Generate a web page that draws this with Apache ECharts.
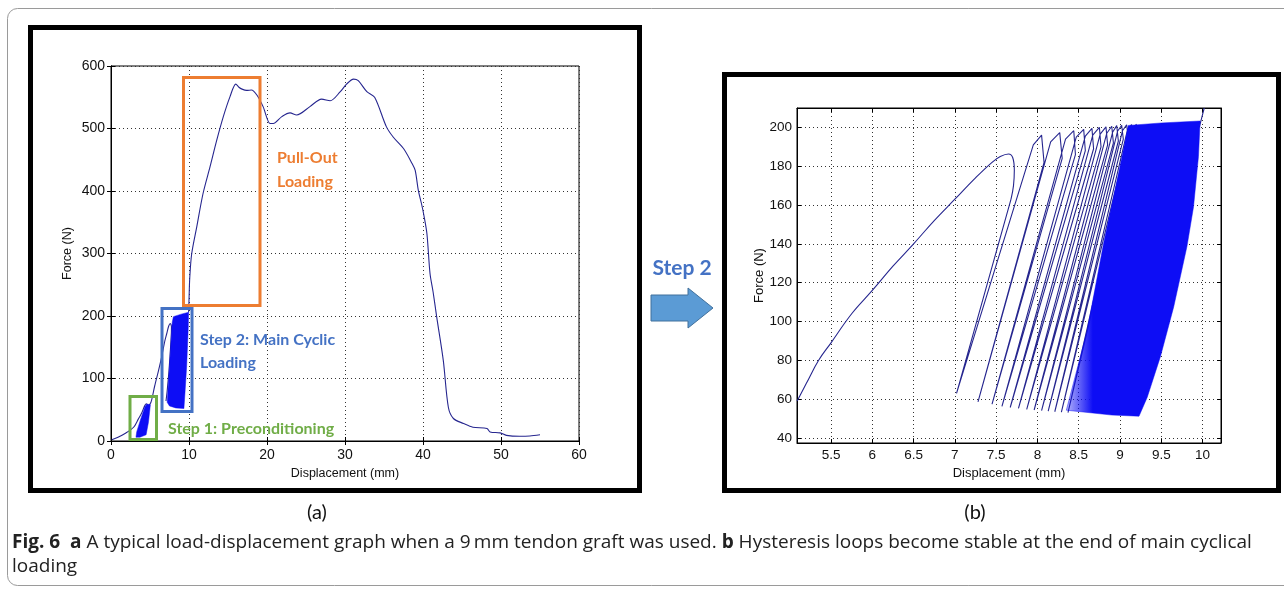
<!DOCTYPE html>
<html>
<head>
<meta charset="utf-8">
<script src="https://cdn.jsdelivr.net/npm/echarts@6/dist/echarts.min.js"></script>
<style>
  html, body { margin: 0; padding: 0; background: #fff; }
  #chart { width: 1284px; height: 590px; }
</style>
</head>
<body>
<div id="chart"></div>
<script>
// (a) full test: ramp up through preconditioning, then pull-out
const aRamp = [[0.1,2],[0.9,6],[1.8,12],[2.9,22],[3.5,35],[3.9,44],[4.35,57],[4.55,59.5],[4.75,57],[5.0,59],
  [5.2,65],[5.6,88],[6.1,113],[6.5,135],[6.9,160],[7.15,172],[7.4,184],[7.6,188],[7.75,183],[7.72,168],
  [7.45,115],[7.2,80],[7.05,64]]
const aPull = [[9.95,206],[10.0,225],[10.1,262],[10.35,300],[11.0,343],[11.8,396],[12.7,439],[13.55,481],
  [14.4,519],[15.26,551],[16.0,571],[16.4,566],[16.8,563],[17.4,561],[18.0,561.5],[18.7,553.6],[19.5,535],
  [20.4,508],[20.8,508],[21.9,519],[22.95,525],[23.8,521.5],[25.5,535],[27.0,547],[28.1,544.5],[29.4,559],
  [30.2,571],[31.1,579],[31.7,576.5],[32.8,559],[33.8,550],[35.3,503],[36.2,486],[37.5,468],[38.6,444],
  [39.0,433],[39.4,401],[39.8,380],[40.1,362],[40.5,332],[40.9,268],[41.3,238],[41.75,199],[42.6,129],
  [43.25,54],[43.9,36],[45.2,28],[46.4,22],[48.2,20],[48.6,14.5],[49.9,13],[50.7,9],[52.4,7.5],[53.7,8],[55.0,10]]
// outlines of the dense loop clouds in (a)
const aPreconLoops = [[3.2,6],[3.7,6],[4.5,10],[4.8,30],[5.05,58],[4.6,59],[4.35,55],[3.75,33],[3.3,15]]
const aCyclicLoops = [[7.2,62],[7.5,120],[7.85,190],[8.0,199],[9.0,203],[9.95,206],[9.9,180],[9.7,120],
  [9.5,80],[9.35,52],[8.3,53],[7.5,56]]

// (b) zoom on main cyclic loading
const bRamp = [[5.09,59],[5.2,68],[5.35,80],[5.5,89],[5.75,104],[6.0,116],[6.25,128.5],[6.5,140],[6.75,152],
  [7.0,163],[7.25,174],[7.45,182],[7.55,185],[7.65,186.3],[7.7,184.5],[7.72,178],[7.71,170],[7.68,163]]
const bCycles = [[7.68,163],[7.02,63],[7.95,191],[8.05,196],[8.08,182],[7.28,58.6],[8.16,192.5],[8.27,197.3],
  [8.30,184],[7.45,57.4],[8.34,194],[8.44,198.3],[8.46,186],[7.57,56.3],[8.47,195],[8.56,199],[8.58,188],
  [7.67,55.7],[8.58,195.5],[8.66,199.5],[8.68,189],[7.77,55.2],[8.67,196],[8.75,200],[8.77,190],[7.87,54.7],
  [8.76,196.5],[8.83,200.3],[8.85,191],[7.96,54.4],[8.84,197],[8.90,200.6],[8.92,192],[8.05,54.1],
  [8.91,197.5],[8.96,200.9],[8.98,193],[8.13,53.8],[8.97,198],[9.02,201.1],[9.04,194],[8.21,53.5],
  [9.03,198.3],[9.08,201.3],[9.10,195],[8.29,53.3],[9.09,198.6],[9.14,201.5],[9.16,195.5],[8.37,53.1],
  [9.15,199],[9.20,201.7]]
const bDenseLoops = [[8.35,54.3],[8.6,95],[8.8,140],[9.0,180],[9.1,201],[9.5,202.3],[9.97,203.3],[9.95,185],
  [9.89,159],[9.81,138.5],[9.65,107.5],[9.49,82],[9.33,61],[9.23,51.2],[8.9,51.8]]
const bExit = [[9.96,200],[9.99,205],[10.02,210]]

const bXTicks = [5.5, 6, 6.5, 7, 7.5, 8, 8.5, 9, 9.5, 10]
const bYTicks = [40, 60, 80, 100, 120, 140, 160, 180, 200]

const lineColor = '#26268f'
const denseColor = '#0d0df5'
const tickFont = "'Liberation Sans', Arial, sans-serif"
const noteFont = "Lato, 'Open Sans', sans-serif"
const captionFont = "'Open Sans', 'Noto Sans', sans-serif"

function axisBase(extra) {
  return Object.assign({
    type: 'value',
    axisLine: { show: true, lineStyle: { color: '#000', width: 1 } },
    axisTick: { show: true, inside: true, length: 4, lineStyle: { color: '#000' } },
    splitLine: { show: true, lineStyle: { color: '#333', type: [1, 3], width: 1 } },
  }, extra)
}

function mirrorAxis(extra) {
  return Object.assign({
    type: 'value',
    axisLine: { show: true, lineStyle: { color: '#000' } },
    axisTick: { show: true, inside: true, length: 4, lineStyle: { color: '#000' } },
    axisLabel: { show: false },
    splitLine: { show: false },
  }, extra)
}

function cloud(name, xi, yi, pts, fill) {
  return {
    name, type: 'custom', xAxisIndex: xi, yAxisIndex: yi, z: 3, clip: true, silent: true,
    data: pts,
    renderItem: (params, api) => {
      if (params.dataIndex !== 0) return null
      return {
        type: 'polygon',
        shape: { points: pts.map((p) => api.coord(p)) },
        style: { fill, stroke: 'rgba(13,13,245,0.6)', lineWidth: 0.8 },
      }
    },
  }
}

function line(name, xi, yi, data, smooth) {
  return {
    name, type: 'line', xAxisIndex: xi, yAxisIndex: yi, data, z: 2,
    showSymbol: false, smooth: smooth, clip: true, silent: true,
    lineStyle: { color: lineColor, width: 1.1 },
  }
}

const labA = { color: '#111', fontSize: 14, fontFamily: tickFont }
const labB = { color: '#111', fontSize: 13.5, fontFamily: tickFont }
const nameA = { color: '#111', fontSize: 12.5, fontFamily: tickFont }
const nameB = { color: '#111', fontSize: 13, fontFamily: tickFont }
const tickB = (vals) => ({ show: true, inside: true, length: 4, customValues: vals, lineStyle: { color: '#000' } })

const option = {
  animation: false,
  backgroundColor: '#fff',
  grid: [
    { left: 111, top: 66, width: 468, height: 375, show: true, borderColor: '#000', borderWidth: 1, backgroundColor: '#fff' },
    { left: 797, top: 108, width: 424, height: 335, show: true, borderColor: '#000', borderWidth: 1, backgroundColor: '#fff' },
  ],
  xAxis: [
    axisBase({ gridIndex: 0, min: 0, max: 60, interval: 10, name: 'Displacement (mm)', nameLocation: 'middle',
      nameGap: 23, nameTextStyle: nameA, axisLabel: Object.assign({ margin: 7 }, labA) }),
    mirrorAxis({ gridIndex: 0, min: 0, max: 60, interval: 10, position: 'top' }),
    axisBase({ gridIndex: 1, min: 5.088, max: 10.223, name: 'Displacement (mm)', nameLocation: 'middle',
      nameGap: 23, nameTextStyle: nameB, axisTick: tickB(bXTicks),
      axisLabel: Object.assign({ margin: 5, customValues: bXTicks }, labB) }),
    mirrorAxis({ gridIndex: 1, min: 5.088, max: 10.223, position: 'top', axisTick: tickB(bXTicks) }),
  ],
  yAxis: [
    axisBase({ gridIndex: 0, min: 0, max: 600, interval: 100, name: 'Force (N)', nameLocation: 'middle',
      nameGap: 37, nameTextStyle: nameA, axisLabel: Object.assign({ margin: 6 }, labA) }),
    mirrorAxis({ gridIndex: 0, min: 0, max: 600, interval: 100, position: 'right' }),
    axisBase({ gridIndex: 1, min: 37.4, max: 210, name: 'Force (N)', nameLocation: 'middle',
      nameGap: 28, nameTextStyle: nameB, axisTick: tickB(bYTicks),
      axisLabel: Object.assign({ margin: 5, customValues: bYTicks }, labB) }),
    mirrorAxis({ gridIndex: 1, min: 37.4, max: 210, position: 'right', axisTick: tickB(bYTicks) }),
  ],
  series: [
    line('a ramp', 0, 0, aRamp, 0.3),
    line('a pull-out', 0, 0, aPull, 0.3),
    cloud('a preconditioning', 0, 0, aPreconLoops, denseColor),
    cloud('a cyclic', 0, 0, aCyclicLoops, denseColor),
    line('b ramp', 2, 2, bRamp, 0.4),
    line('b cycles', 2, 2, bCycles, false),
    cloud('b dense', 2, 2, bDenseLoops, new echarts.graphic.LinearGradient(0, 0, 1, 0, [
      { offset: 0, color: 'rgba(13,13,245,0.3)' },
      { offset: 0.2, color: denseColor },
      { offset: 1, color: denseColor },
    ])),
    line('b exit', 2, 2, bExit, false),
  ],
  graphic: [
    { type: 'rect', z: -10, shape: { x: 7.5, y: 8.5, width: 1300, height: 577, r: 10 },
      style: { fill: 'transparent', stroke: '#9a9a9a', lineWidth: 1 } },
    { type: 'rect', z: 10, shape: { x: 30.5, y: 27.5, width: 609, height: 463 },
      style: { fill: 'transparent', stroke: '#000', lineWidth: 5 } },
    { type: 'rect', z: 10, shape: { x: 724.5, y: 74.5, width: 554, height: 416 },
      style: { fill: 'transparent', stroke: '#000', lineWidth: 5 } },
    // step boxes in (a)
    { type: 'rect', z: 10, shape: { x: 183.5, y: 77.5, width: 76.5, height: 228 },
      style: { fill: 'transparent', stroke: '#ED7D31', lineWidth: 3 } },
    { type: 'rect', z: 10, shape: { x: 162, y: 308.5, width: 30, height: 103 },
      style: { fill: 'transparent', stroke: '#4472C4', lineWidth: 3 } },
    { type: 'rect', z: 10, shape: { x: 130, y: 396.5, width: 26.5, height: 43 },
      style: { fill: 'transparent', stroke: '#70AD47', lineWidth: 3 } },
    { type: 'text', z: 11, x: 277, y: 158, style: { text: 'Pull-Out', fill: '#ED7D31', fontSize: 16, fontWeight: 'bold', fontFamily: noteFont, verticalAlign: 'middle' } },
    { type: 'text', z: 11, x: 277, y: 182, style: { text: 'Loading', fill: '#ED7D31', fontSize: 16, fontWeight: 'bold', fontFamily: noteFont, verticalAlign: 'middle' } },
    { type: 'text', z: 11, x: 200, y: 340, style: { text: 'Step 2: Main Cyclic', fill: '#4472C4', fontSize: 16, fontWeight: 'bold', fontFamily: noteFont, verticalAlign: 'middle' } },
    { type: 'text', z: 11, x: 200, y: 363, style: { text: 'Loading', fill: '#4472C4', fontSize: 16, fontWeight: 'bold', fontFamily: noteFont, verticalAlign: 'middle' } },
    { type: 'text', z: 11, x: 168, y: 429, style: { text: 'Step 1: Preconditioning', fill: '#70AD47', fontSize: 16, fontWeight: 'bold', fontFamily: noteFont, verticalAlign: 'middle' } },
    // arrow between panels
    { type: 'text', z: 11, x: 682, y: 268, style: { text: 'Step 2', fill: '#4472C4', fontSize: 21, fontWeight: 'bold', fontFamily: noteFont, align: 'center', verticalAlign: 'middle' } },
    { type: 'polygon', z: 11, shape: { points: [[651, 295], [688, 295], [688, 288], [713, 308], [688, 328], [688, 321], [651, 321]] },
      style: { fill: '#5B9BD5', stroke: '#41719C', lineWidth: 1 } },
    { type: 'text', z: 11, x: 317, y: 513, style: { text: '(a)', fill: '#111', fontSize: 20, fontFamily: noteFont, align: 'center', verticalAlign: 'middle' } },
    { type: 'text', z: 11, x: 975, y: 513, style: { text: '(b)', fill: '#111', fontSize: 20, fontFamily: noteFont, align: 'center', verticalAlign: 'middle' } },
    { type: 'text', z: 11, x: 12, y: 543, style: {
      text: '{b|Fig. 6}  {b|a} A typical load-displacement graph when a 9\u2009mm tendon graft was used. {b|b} Hysteresis loops become stable at the end of main cyclical',
      fill: '#222', fontSize: 19, fontFamily: captionFont, verticalAlign: 'middle',
      rich: { b: { fontWeight: 'bold', fontSize: 19, fill: '#222', fontFamily: captionFont } } } },
    { type: 'text', z: 11, x: 12, y: 567, style: { text: 'loading', fill: '#222', fontSize: 19, fontFamily: captionFont, verticalAlign: 'middle' } },
  ],
}

const chart = echarts.init(document.getElementById('chart'), null, { renderer: 'canvas' })
chart.setOption(option)
</script>
</body>
</html>
